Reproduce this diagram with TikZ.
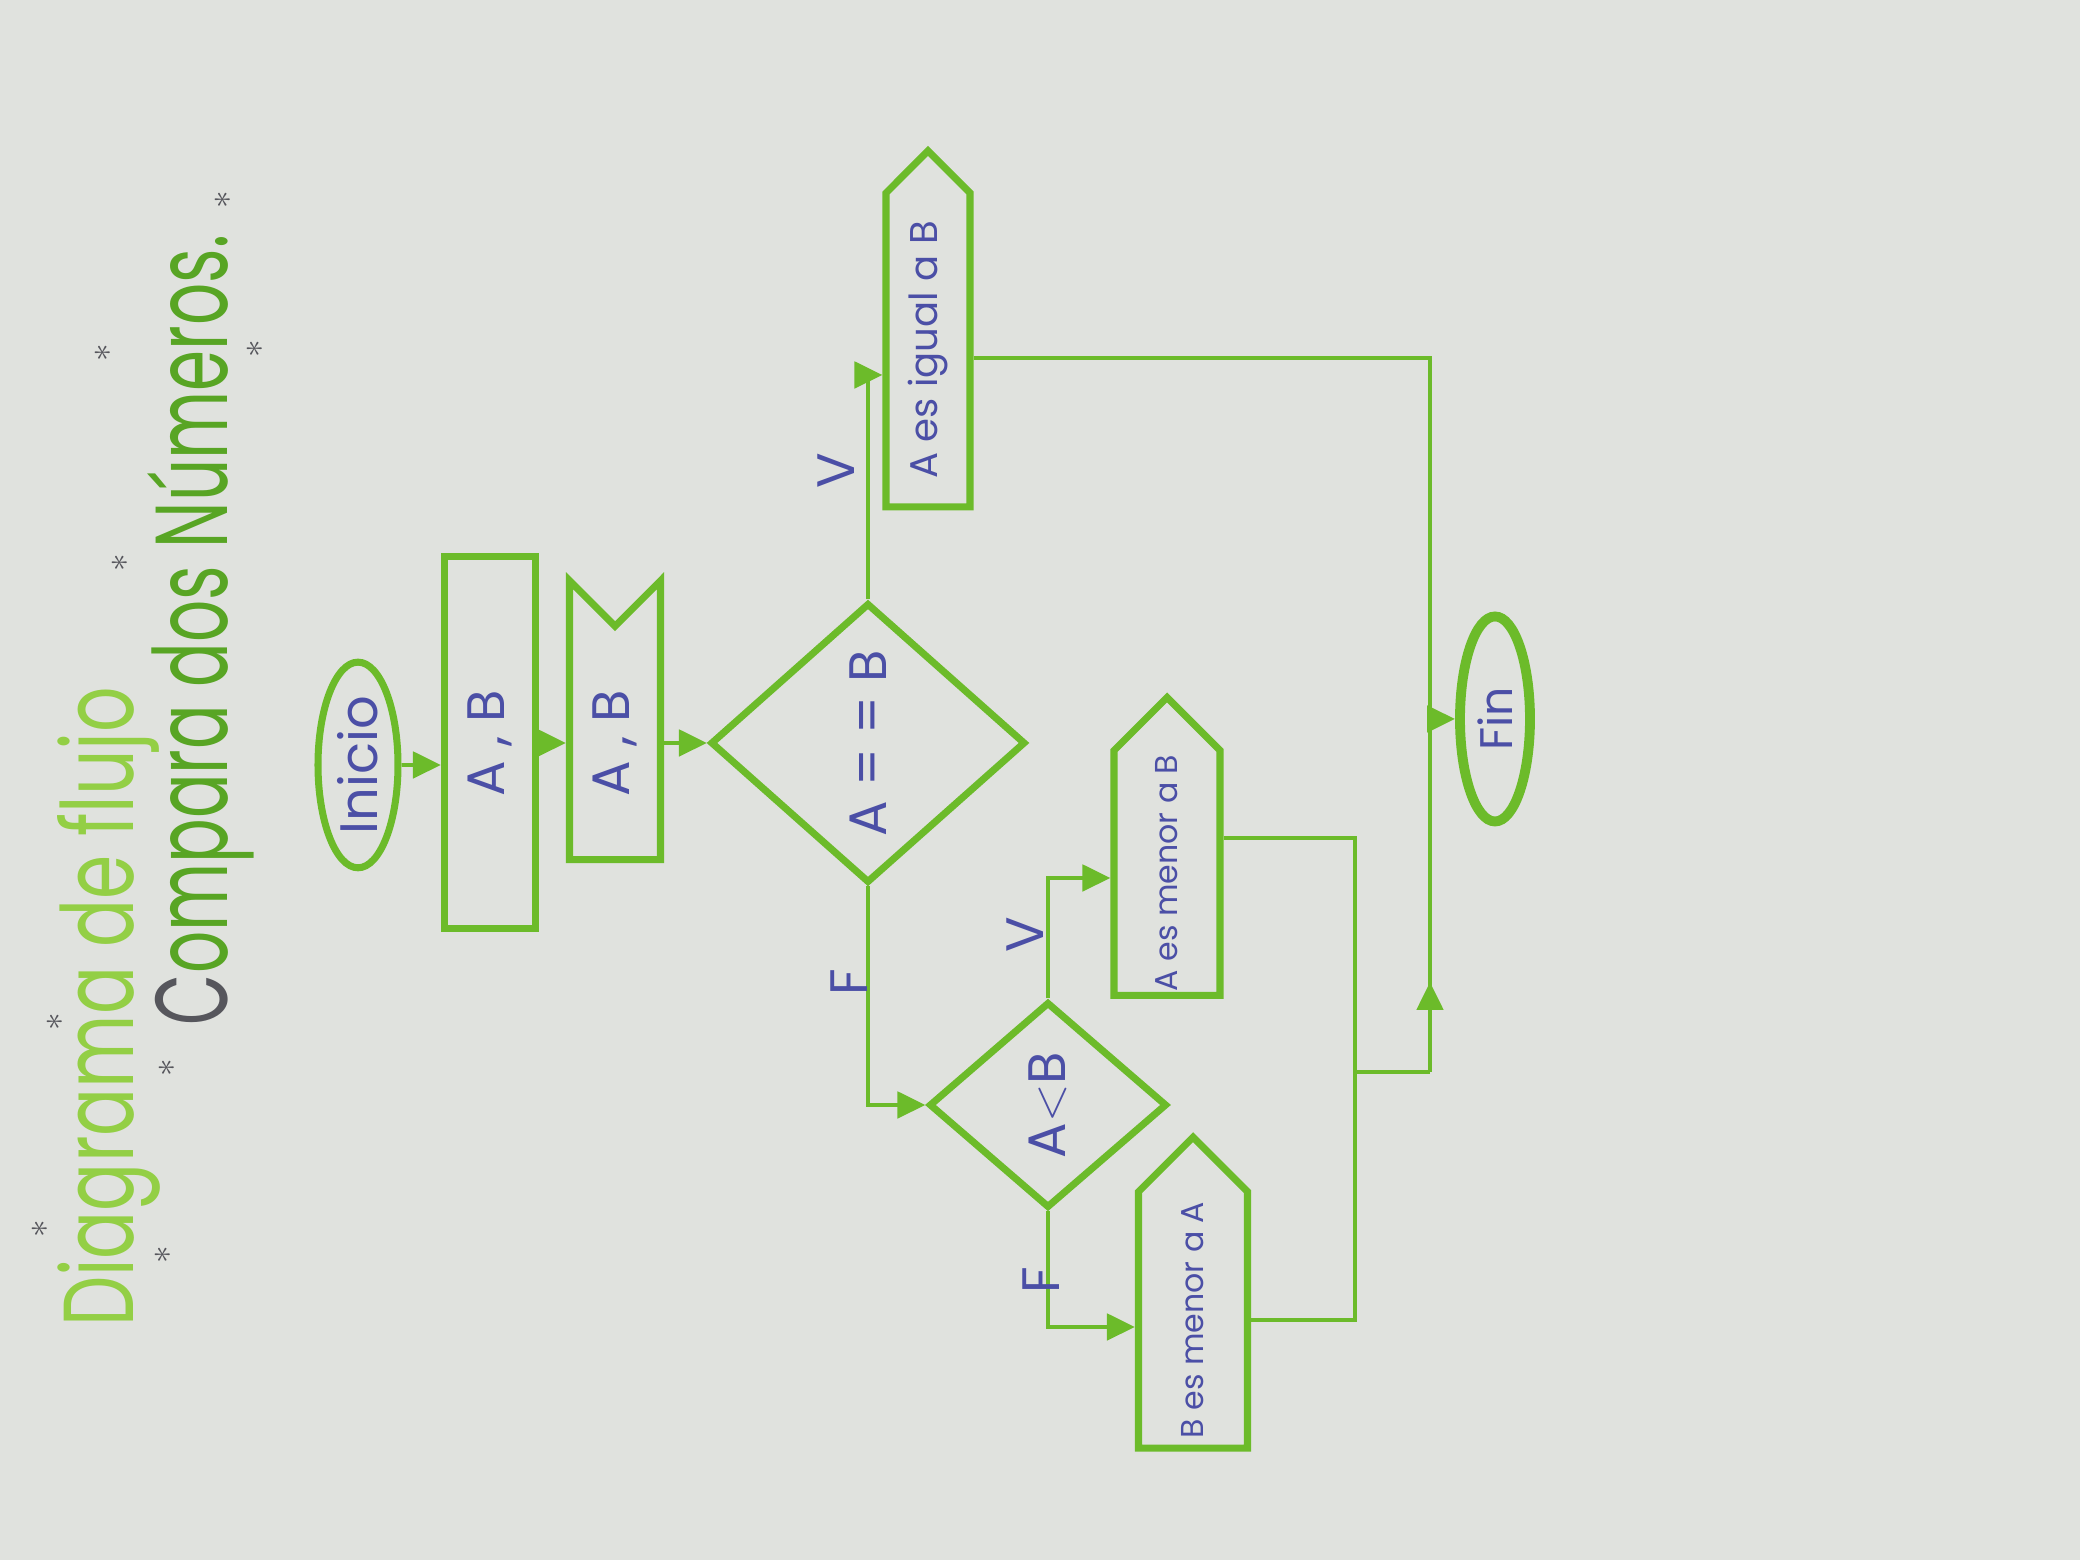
\documentclass[tikz,border=0pt]{standalone}
\usepackage{fontspec}
\setmainfont{Poppins}
\usetikzlibrary{shapes.geometric, shapes.symbols, arrows.meta}
\definecolor{marker}{HTML}{6CBB2A}
\definecolor{lightmarker}{HTML}{93CF45}
\definecolor{darkmarker}{HTML}{58A524}
\definecolor{ink}{HTML}{4B4FA6}
\definecolor{paper}{HTML}{E0E2DE}
\definecolor{pencil}{HTML}{56565C}

\begin{document}
\begin{tikzpicture}[
  fig/.style={draw=marker, line width=2pt, rotate=90, text=ink, inner sep=1pt},
  term/.style={fig, ellipse, font=\fontsize{15}{17}\selectfont},
  inbox/.style={fig, rectangle, font=\fontsize{15}{17}\selectfont},
  docbox/.style={fig, signal, signal from=east, signal to=nothing,
                 signal pointer angle=90, font=\fontsize{15}{17}\selectfont},
  cond/.style={fig, diamond, font=\fontsize{15}{17}\selectfont},
  outbox/.style={fig, signal, signal to=east, signal pointer angle=90,
                 font=\fontsize{9}{11}\selectfont},
  arr/.style={-{Triangle[length=2.8mm, width=2.6mm]}, draw=marker, line width=1.4pt},
  link/.style={draw=marker, line width=1.3pt},
  lbl/.style={text=ink, rotate=90, font=\fontsize{15}{17}\selectfont},
  star/.style={text=pencil, rotate=90, font=\fontsize{10}{10}\selectfont}
]
  \fill[paper] (0, 0) rectangle (20.8, 15.6);
  \useasboundingbox (0, 0) rectangle (20.8, 15.6);

  % Titulos
  \node[rotate=90, anchor=base, text=lightmarker, inner sep=0pt] (title) at (1.33, 5.53)
    {\resizebox{6.4cm}{0.76cm}{Diagrama de flujo}};
  \node[rotate=90, anchor=base, text=darkmarker, inner sep=0pt] (subtitle) at (2.27, 9.30)
    {\resizebox{7.9cm}{0.80cm}{{\color{pencil}C}ompara dos Números.}};

  \node[star] (s1) at (0.40, 3.31) {$\ast$};
  \node[star] (s2) at (0.55, 5.38) {$\ast$};
  \node[star] (s3) at (1.03, 12.07) {$\ast$};
  \node[star] (s4) at (1.20, 9.97) {$\ast$};
  \node[star] (s5) at (1.67, 4.92) {$\ast$};
  \node[star] (s6) at (1.63, 3.05) {$\ast$};
  \node[star] (s7) at (2.23, 13.60) {$\ast$};
  \node[star] (s8) at (2.55, 12.11) {$\ast$};

  % Bloques
  \node[term, minimum width=2.0cm, minimum height=0.8cm] (ini) at (3.58, 7.95) {Inicio};
  \node[inbox, minimum width=3.72cm, minimum height=0.91cm] (read) at (4.90, 8.17) {A , B};
  \node[docbox, minimum width=2.79cm, minimum height=0.91cm] (show) at (6.15, 8.17) {A , B};
  \node[cond, minimum width=2.8cm, minimum height=3.15cm] (eq) at (8.68, 8.17) {A = = B};
  \node[outbox, minimum width=3.56cm, minimum height=0.84cm,
        font=\fontsize{11}{13}\selectfont] (same) at (9.28, 12.10) {A es igual a B};
  \node[cond, minimum width=2.06cm, minimum height=2.38cm] (less) at (10.48, 4.55) {A$<$B};
  \node[outbox, minimum width=2.98cm, minimum height=1.06cm] (aless) at (11.67, 6.87) {A es menor a B};
  \node[outbox, minimum width=3.11cm, minimum height=1.09cm] (bless) at (11.93, 2.40) {B es menor a A};
  \node[term, minimum width=2.05cm, minimum height=0.7cm, line width=2.8pt,
        font=\fontsize{13}{15}\selectfont] (fin) at (14.95, 8.41) {Fin};

  \coordinate (joinL) at (13.55, 4.88);
  \coordinate (joinR) at (14.30, 4.88);

  % Flujo principal
  \draw[arr] (ini.south) -- (ini.south -| read.north);
  \draw[arr] (read.south) -- (read.south -| show.north);
  \draw[arr] (show.south) -- (eq.north);

  % Ramas
  \draw[arr] (eq.east) |- ([yshift=-2.5mm]same.north);
  \draw[arr] (eq.west) |- (less.north);
  \draw[arr] (less.east) |- ([yshift=-0.5mm]aless.north);
  \draw[arr] (less.west) |- ([yshift=-0.7mm]bless.north);

  % Salidas hacia Fin
  \draw[link] ([yshift=-0.8mm]same.south) -| (joinR);
  \draw[link] ([yshift=3.5mm]aless.south) -| (joinL);
  \draw[link] (bless.south) -| (joinL);
  \draw[link] (joinL) -- (joinR);
  \draw[arr] (joinR) -- ++(0, 0.9);
  \draw[arr] (fin.north -| joinR) -- (fin.north);

  % Etiquetas
  \node[lbl] (yes1) at (8.36, 10.89) {V};
  \node[lbl] (no1) at (8.49, 5.78) {F};
  \node[lbl] (yes2) at (10.25, 6.25) {V};
  \node[lbl] (no2) at (10.41, 2.80) {F};
\end{tikzpicture}
\end{document}
